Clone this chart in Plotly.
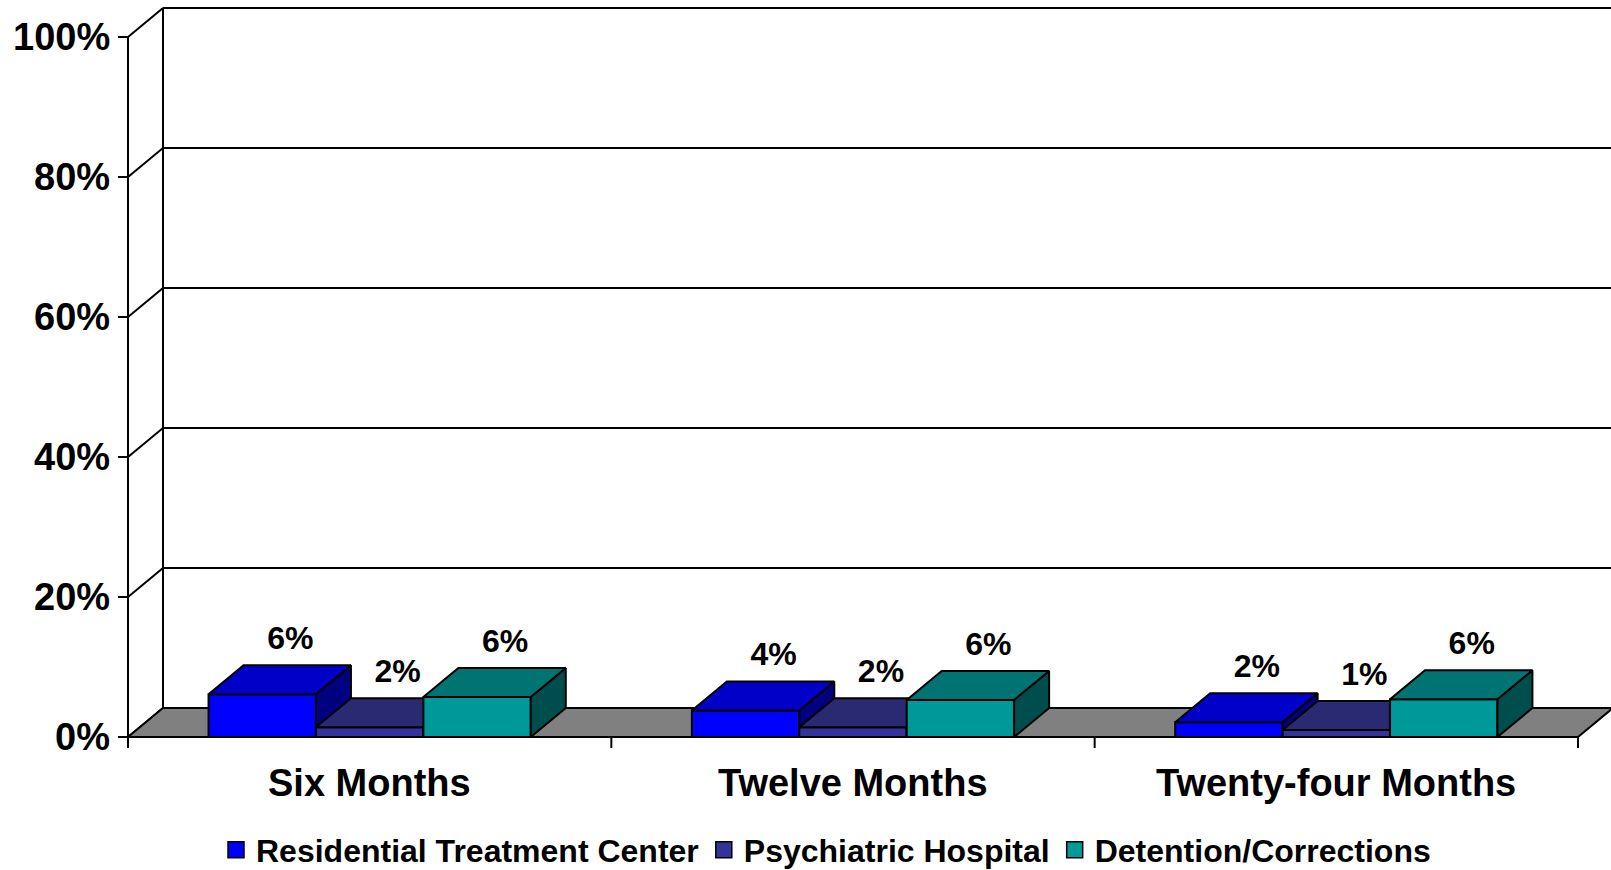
import plotly.graph_objects as go

# ---------------- data ----------------
categories = ["Six Months", "Twelve Months", "Twenty-four Months"]
series_names = ["Residential Treatment Center", "Psychiatric Hospital", "Detention/Corrections"]
rtc_values = [6.1, 3.8, 2.1]
psych_values = [1.4, 1.4, 1.0]
det_values = [5.7, 5.3, 5.4]
rtc_labels = ["6%", "4%", "2%"]
psych_labels = ["2%", "2%", "1%"]
det_labels = ["6%", "6%", "6%"]
y_ticks = [0, 20, 40, 60, 80, 100]
y_tick_labels = ["0%", "20%", "40%", "60%", "80%", "100%"]

series_values = [rtc_values, psych_values, det_values]
series_labels = [rtc_labels, psych_labels, det_labels]

# ---------------- style ----------------
W, H = 1611, 870
LEFT_PX, ZERO_PX = 128, 737          # pixel position of front-left corner / 0% line
PX_X = 483.33                        # pixels per category
PX_Y = 7.0                           # pixels per percent
DX = 35 / PX_X                       # 3D depth offset (x)
DY = 29 / PX_Y                       # 3D depth offset (y)
BAR_W = 1 / 4.5
GAP = 0.75 * BAR_W
FONT = "Liberation Sans, Arial, sans-serif"

front_cols = ["#0000FF", "#333399", "#009999"]
top_cols = ["#0000C8", "#2A2A72", "#007373"]
side_cols = ["#000080", "#1C1C55", "#004D4D"]

ncat = len(categories)
fig = go.Figure()


def poly_trace(polys, fill, lw=2):
    xs, ys = [], []
    for p in polys:
        for (a, b) in p:
            xs.append(a)
            ys.append(b)
        xs.append(p[0][0])
        ys.append(p[0][1])
        xs.append(None)
        ys.append(None)
    return go.Scatter(x=xs, y=ys, mode="lines", fill="toself", fillcolor=fill,
                      line=dict(color="black", width=lw), showlegend=False,
                      hoverinfo="skip")


def line_trace(segs, lw=2):
    xs, ys = [], []
    for (a, b), (c, d) in segs:
        xs += [a, c, None]
        ys += [b, d, None]
    return go.Scatter(x=xs, y=ys, mode="lines", line=dict(color="black", width=lw),
                      showlegend=False, hoverinfo="skip")


# back wall and side wall grid
top = y_ticks[-1]
grid = [((DX, DY), (DX, top + DY))]
for t in y_ticks:
    grid.append(((DX, t + DY), (ncat + DX + 0.1, t + DY)))
    grid.append(((0, t), (DX, t + DY)))
    grid.append(((-10 / PX_X, t), (0, t)))
grid.append(((0, 0), (0, top)))
fig.add_trace(line_trace(grid))

# floor
fig.add_trace(poly_trace([[(0, 0), (ncat, 0), (ncat + DX, DY), (DX, DY)]], "#808080"))

# x axis line and ticks
axis = [((0, 0), (ncat, 0))]
for i in range(ncat + 1):
    axis.append(((i, 0), (i, -11 / PX_Y)))
fig.add_trace(line_trace(axis))

# bars
label_x, label_y, label_t = [], [], []
for s, (vals, labs) in enumerate(zip(series_values, series_labels)):
    fronts, tops, sides = [], [], []
    for i, v in enumerate(vals):
        x0 = i + GAP + s * BAR_W
        x1 = x0 + BAR_W
        fronts.append([(x0, 0), (x1, 0), (x1, v), (x0, v)])
        tops.append([(x0, v), (x1, v), (x1 + DX, v + DY), (x0 + DX, v + DY)])
        sides.append([(x1, 0), (x1 + DX, DY), (x1 + DX, v + DY), (x1, v)])
        label_x.append((x0 + x1) / 2 + 28 / PX_X)
        label_y.append(v + DY + 24 / PX_Y)
        label_t.append(labs[i])
    fig.add_trace(poly_trace(fronts, front_cols[s]))
    fig.add_trace(poly_trace(sides, side_cols[s]))
    fig.add_trace(poly_trace(tops, top_cols[s]))

# data labels
fig.add_trace(go.Scatter(x=label_x, y=label_y, text=label_t, mode="text",
                         textfont=dict(family=FONT, size=32, color="black", weight="bold"),
                         showlegend=False, hoverinfo="skip", cliponaxis=False))

# legend entries
for s, name in enumerate(series_names):
    fig.add_trace(go.Scatter(x=[None], y=[None], mode="markers", name=name,
                             marker=dict(symbol="square", size=18, color=front_cols[s],
                                         line=dict(color="black", width=1.5))))

annotations = []
for t, lab in zip(y_ticks, y_tick_labels):
    annotations.append(dict(x=-16 / PX_X, y=t, text=lab, showarrow=False,
                            xanchor="right", yanchor="middle",
                            font=dict(family=FONT, size=38, color="black", weight="bold")))
for i, c in enumerate(categories):
    annotations.append(dict(x=i + 0.5, y=-46 / PX_Y, text=c, showarrow=False,
                            xanchor="center", yanchor="middle",
                            font=dict(family=FONT, size=38, color="black", weight="bold")))

fig.update_layout(
    width=W, height=H,
    margin=dict(l=0, r=0, t=0, b=0, autoexpand=False),
    paper_bgcolor="white", plot_bgcolor="white",
    xaxis=dict(range=[-LEFT_PX / PX_X, (W - LEFT_PX) / PX_X], visible=False, fixedrange=True),
    yaxis=dict(range=[-(H - ZERO_PX) / PX_Y, ZERO_PX / PX_Y], visible=False, fixedrange=True),
    annotations=annotations,
    showlegend=True,
    legend=dict(orientation="h", x=826 / W, xanchor="center", y=1 - 850 / H, yanchor="middle",
                font=dict(family=FONT, size=32, color="black", weight="bold"),
                bgcolor="rgba(0,0,0,0)", itemclick=False, itemdoubleclick=False),
)

fig.write_html("out.html", config={"displayModeBar": False},
               post_script="document.body.style.margin='0';document.body.style.overflow='hidden';")
